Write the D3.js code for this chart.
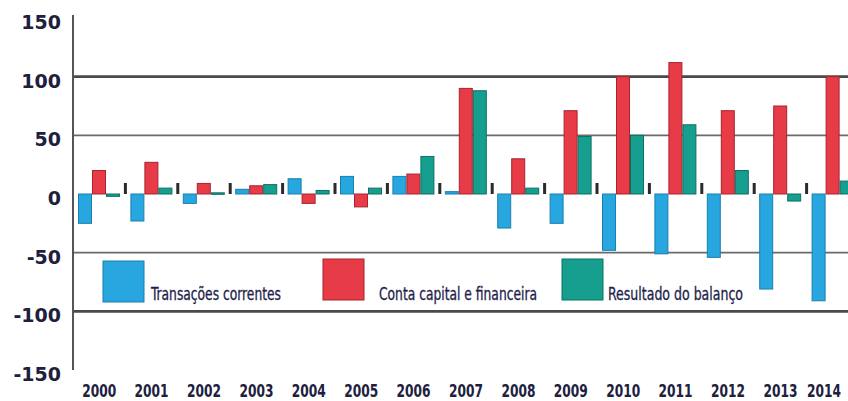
<!DOCTYPE html>
<html>
<head>
<meta charset="utf-8">
<script src="https://cdn.jsdelivr.net/npm/d3@7"></script>
<style>
  body { margin: 0; background: #fff; }
  svg { display: block; }
</style>
</head>
<body>
<div id="chart"></div>
<script>
const years = ['2000', '2001', '2002', '2003', '2004', '2005', '2006', '2007',
  '2008', '2009', '2010', '2011', '2012', '2013', '2014'];
const transacoes = [-25, -23, -8, 4, 13, 15, 15, 2, -29, -25, -48, -51, -54, -81, -91];
const contaCapital = [20, 27, 9, 7, -8, -11, 17, 90, 30, 71, 100, 112, 71, 75, 100];
const resultado = [-2, 5, 1, 8, 3, 5, 32, 88, 5, 49, 50, 59, 20, -6, 11];
const yTicks = [150, 100, 50, 0, -50, -100, -150];

const seriesNames = ['Transações correntes', 'Conta capital e financeira', 'Resultado do balanço'];
const fills = ['#27a6df', '#e73b47', '#169e8e'];
const strokes = ['#1b7fae', '#a8242e', '#0d7065'];

const series = [transacoes, contaCapital, resultado];
const rows = years.map((y, i) => ({ year: y, values: series.map(s => s[i]) }));

const width = 848, height = 401;
const svg = d3.select('#chart').append('svg')
  .attr('width', width)
  .attr('height', height);

const x = d3.scaleBand().domain(years).range([73, 859]).padding(0);
const xInner = d3.scaleBand().domain(d3.range(3)).range([5, 47]).padding(0);
const y = d3.scaleLinear().domain([-150, 150]).range([370, 18]);

// grid lines
svg.append('g')
  .selectAll('line')
  .data(yTicks.filter(t => t !== 0 && Math.abs(t) !== 150))
  .join('line')
  .attr('x1', 73)
  .attr('x2', width)
  .attr('y1', d => y(d))
  .attr('y2', d => y(d))
  .attr('stroke', d => Math.abs(d) === 100 ? '#4a4a4a' : '#6a6a6a')
  .attr('stroke-width', d => Math.abs(d) === 100 ? 2.6 : 1.8);

// y axis line
svg.append('line')
  .attr('x1', 73).attr('x2', 73)
  .attr('y1', 15).attr('y2', y(-150))
  .attr('stroke', '#555')
  .attr('stroke-width', 2);

// y labels
svg.append('g')
  .selectAll('text')
  .data(yTicks)
  .join('text')
  .attr('x', 61)
  .attr('y', d => y(d) + 11)
  .attr('text-anchor', 'end')
  .style('font-family', 'DejaVu Sans')
  .style('font-weight', 'bold')
  .style('font-size', '19px')
  .attr('fill', '#20203e')
  .text(d => d);

// bars
const groups = svg.append('g')
  .selectAll('g')
  .data(rows)
  .join('g')
  .attr('transform', d => `translate(${x(d.year)},0)`);

groups.selectAll('rect')
  .data(d => d.values.map((v, k) => ({ k, v })))
  .join('rect')
  .attr('x', d => xInner(d.k) + 0.5)
  .attr('width', xInner.bandwidth() - 1)
  .attr('y', d => Math.min(y(d.v), y(0)))
  .attr('height', d => Math.max(Math.abs(y(d.v) - y(0)), 1.5))
  .attr('fill', d => fills[d.k])
  .attr('stroke', d => strokes[d.k])
  .attr('stroke-width', 1);

// small ticks on the zero line between years
svg.append('g')
  .selectAll('rect')
  .data(years.slice(1))
  .join('rect')
  .attr('x', d => x(d) - 1.5)
  .attr('width', 3)
  .attr('y', y(0) - 11)
  .attr('height', 11)
  .attr('fill', '#2a2a2a');

// x labels (last one kept inside the frame)
svg.append('g')
  .selectAll('text')
  .data(years)
  .join('text')
  .attr('x', d => Math.min(x(d) + x.bandwidth() / 2, width - 24))
  .attr('y', 397)
  .attr('text-anchor', 'middle')
  .style('font-family', '"Liberation Sans Narrow", "DejaVu Sans Condensed", sans-serif')
  .style('font-weight', 'bold')
  .style('font-size', '17px')
  .attr('textLength', 34)
  .attr('lengthAdjust', 'spacingAndGlyphs')
  .attr('fill', '#20203e')
  .text(d => d);

// legend
const legendItems = [
  { sx: 103, sy: 261, tx: 151, tw: 130 },
  { sx: 323, sy: 259, tx: 379, tw: 158 },
  { sx: 562, sy: 259, tx: 608, tw: 135 }
];

const legend = svg.append('g')
  .selectAll('g')
  .data(seriesNames)
  .join('g');

legend.append('rect')
  .attr('x', (d, i) => legendItems[i].sx)
  .attr('y', (d, i) => legendItems[i].sy)
  .attr('width', 41)
  .attr('height', 41)
  .attr('fill', (d, i) => fills[i])
  .attr('stroke', (d, i) => strokes[i])
  .attr('stroke-width', 1);

legend.append('text')
  .attr('x', (d, i) => legendItems[i].tx)
  .attr('y', 300)
  .style('font-family', '"Liberation Sans Narrow", "DejaVu Sans Condensed", sans-serif')
  .style('font-size', '17px')
  .attr('textLength', (d, i) => legendItems[i].tw)
  .attr('lengthAdjust', 'spacingAndGlyphs')
  .attr('fill', '#1e1e4a')
  .attr('stroke', '#1e1e4a')
  .attr('stroke-width', 0.3)
  .text(d => d);
</script>
</body>
</html>
